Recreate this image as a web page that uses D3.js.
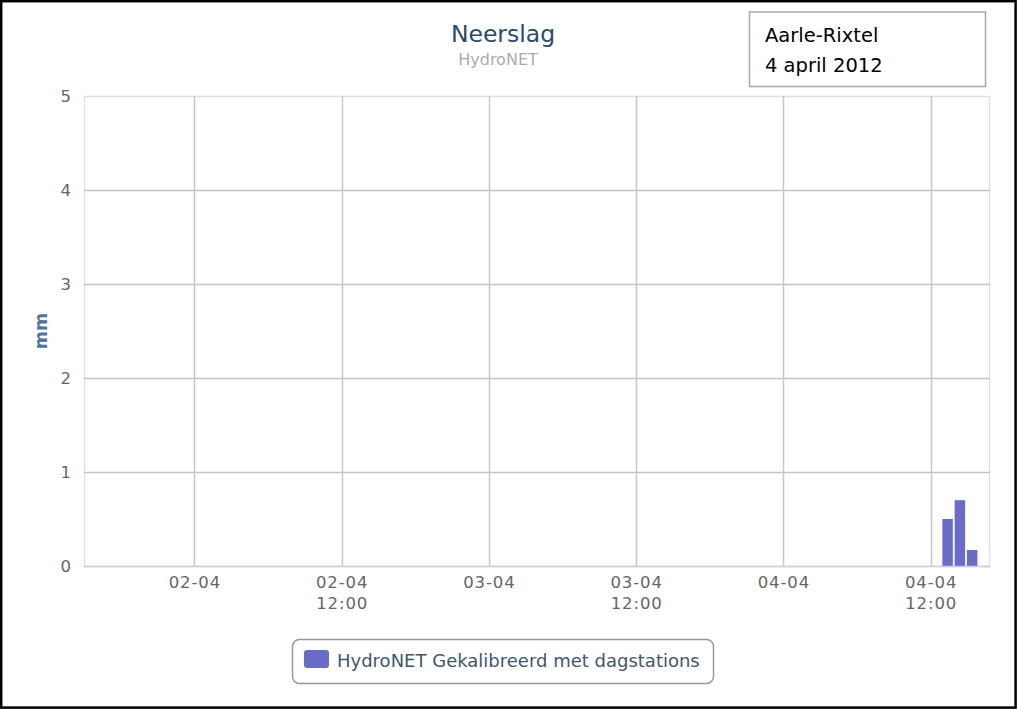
<!DOCTYPE html>
<html>
<head>
<meta charset="utf-8">
<script src="https://cdn.jsdelivr.net/npm/d3@7/dist/d3.min.js"></script>
<style>
  html, body { margin: 0; padding: 0; background: #fff; }
  svg { display: block; }
  text { font-family: "DejaVu Sans", "Lucida Grande", Verdana, sans-serif; }
</style>
</head>
<body>
<svg id="chart" width="1017" height="709"></svg>
<script>
// Hourly precipitation (mm), each bar covers the hour starting at its timestamp
const hours = ["2012-04-04T13:00:00Z", "2012-04-04T14:00:00Z", "2012-04-04T15:00:00Z"];
const rain = [0.5, 0.7, 0.17];
const yTicks = [0, 1, 2, 3, 4, 5];
const xTicks = ["2012-04-02T00:00:00Z", "2012-04-02T12:00:00Z", "2012-04-03T00:00:00Z",
                "2012-04-03T12:00:00Z", "2012-04-04T00:00:00Z", "2012-04-04T12:00:00Z"];
const timeRange = ["2012-04-01T15:00:00Z", "2012-04-04T16:50:00Z"];
const titleText = "Neerslag";
const subtitleText = "HydroNET";
const yTitle = "mm";
const seriesName = "HydroNET Gekalibreerd met dagstations";
const noteLines = ["Aarle-Rixtel", "4 april 2012"];

const svg = d3.select("#chart");
const W = 1017, H = 709;
const plot = { left: 84, right: 990, top: 96, bottom: 566 };

// outer frame
svg.append("rect").attr("x", 1.2).attr("y", 1.2).attr("width", W - 2.6).attr("height", H - 2.6)
  .attr("fill", "#fff").attr("stroke", "#000").attr("stroke-width", 2.5);

const x = d3.scaleUtc()
  .domain(timeRange.map(d => new Date(d)))
  .range([plot.left, plot.right]);
const y = d3.scaleLinear().domain([0, 5]).range([plot.bottom, plot.top]);

// plot border
svg.append("rect")
  .attr("x", plot.left + 0.5).attr("y", plot.top + 0.5)
  .attr("width", plot.right - plot.left - 1).attr("height", plot.bottom - plot.top)
  .attr("fill", "none").attr("stroke", "#e2e2e2").attr("stroke-width", 1.5);

// horizontal grid
svg.append("g").selectAll("line")
  .data(yTicks.filter(v => v > 0 && v < 5)).join("line")
  .attr("x1", plot.left).attr("x2", plot.right)
  .attr("y1", d => Math.round(y(d)) + 0.5).attr("y2", d => Math.round(y(d)) + 0.5)
  .attr("stroke", "#c4c4c4").attr("stroke-width", 1.5);

// vertical grid
const xTickDates = xTicks.map(d => new Date(d));
svg.append("g").selectAll("line")
  .data(xTickDates).join("line")
  .attr("x1", d => Math.round(x(d)) + 0.5).attr("x2", d => Math.round(x(d)) + 0.5)
  .attr("y1", plot.top).attr("y2", plot.bottom)
  .attr("stroke", "#c8c8c8").attr("stroke-width", 1.5);

// bars
const barData = hours.map((h, i) => ({ t: new Date(h), v: rain[i] }));
svg.append("g").selectAll("rect")
  .data(barData).join("rect")
  .attr("x", d => x(d.t) - 0.6)
  .attr("width", d => x(d3.utcHour.offset(d.t, 1)) - x(d.t) - 1.8)
  .attr("y", d => y(d.v))
  .attr("height", d => y(0) - y(d.v))
  .attr("fill", "#6b6bc9");

// x axis line
svg.append("line")
  .attr("x1", plot.left).attr("x2", plot.right)
  .attr("y1", plot.bottom + 0.5).attr("y2", plot.bottom + 0.5)
  .attr("stroke", "#c0d0e0").attr("stroke-width", 1.5);

// y axis labels
const yAxis = d3.axisLeft(y).tickValues(yTicks).tickSize(0).tickPadding(0).tickFormat(d3.format("d"));
const yg = svg.append("g").attr("transform", `translate(${plot.left - 13},0)`).call(yAxis);
yg.select(".domain").remove();
yg.selectAll("text").attr("font-size", 16.5).attr("fill", "#666")
  .attr("font-family", "DejaVu Sans, sans-serif").attr("dy", "0.35em");

// x axis labels (two lines when the time is not midnight)
const fmtDay = d3.utcFormat("%d-%m");
const fmtTime = d3.utcFormat("%H:%M");
const xAxis = d3.axisBottom(x).tickValues(xTickDates).tickSize(0).tickPadding(0).tickFormat(fmtDay);
const xg = svg.append("g").attr("transform", `translate(0,${plot.bottom})`).call(xAxis);
xg.select(".domain").remove();
xg.selectAll(".tick text")
  .attr("font-size", 16.5).attr("letter-spacing", 0.9).attr("fill", "#666")
  .attr("font-family", "DejaVu Sans, sans-serif")
  .attr("y", 21.5).attr("dy", 0)
  .each(function(d) {
    if (d.getUTCHours() !== 0) {
      d3.select(this).append("tspan").attr("x", 0).attr("dy", 21).text(fmtTime(d));
    }
  });

// y axis title
svg.append("text")
  .attr("transform", `translate(46.5,${(plot.top + plot.bottom) / 2}) rotate(-90)`)
  .attr("text-anchor", "middle")
  .attr("font-size", 17.5).attr("font-weight", "bold").attr("fill", "#4d759e")
  .text(yTitle);

// titles
svg.append("text").attr("x", 503).attr("y", 42).attr("text-anchor", "middle")
  .attr("font-size", 23.5).attr("fill", "#274b6d").text(titleText);
svg.append("text").attr("x", 498).attr("y", 65).attr("text-anchor", "middle")
  .attr("font-size", 16).attr("fill", "#ababab").text(subtitleText);

// location note box
svg.append("rect").attr("x", 749.5).attr("y", 12).attr("width", 236).attr("height", 74.5)
  .attr("fill", "#fff").attr("stroke", "#a8a8a8").attr("stroke-width", 1.5);
svg.append("g").selectAll("text").data(noteLines).join("text")
  .attr("x", 765).attr("y", (d, i) => 42 + i * 29.5)
  .attr("font-family", "Carlito, 'Open Sans', sans-serif")
  .attr("font-size", 19.5).attr("fill", "#000").text(d => d);

// legend
const lg = svg.append("g");
lg.append("rect").attr("x", 292.5).attr("y", 639.5).attr("width", 421).attr("height", 44)
  .attr("rx", 7).attr("fill", "#fff").attr("stroke", "#999").attr("stroke-width", 1.5);
lg.append("rect").attr("x", 304).attr("y", 650).attr("width", 25).attr("height", 18)
  .attr("rx", 3).attr("fill", "#6b6bc9");
lg.append("text").attr("x", 337).attr("y", 667)
  .attr("font-size", 18).attr("fill", "#3e576f").text(seriesName);
</script>
</body>
</html>
